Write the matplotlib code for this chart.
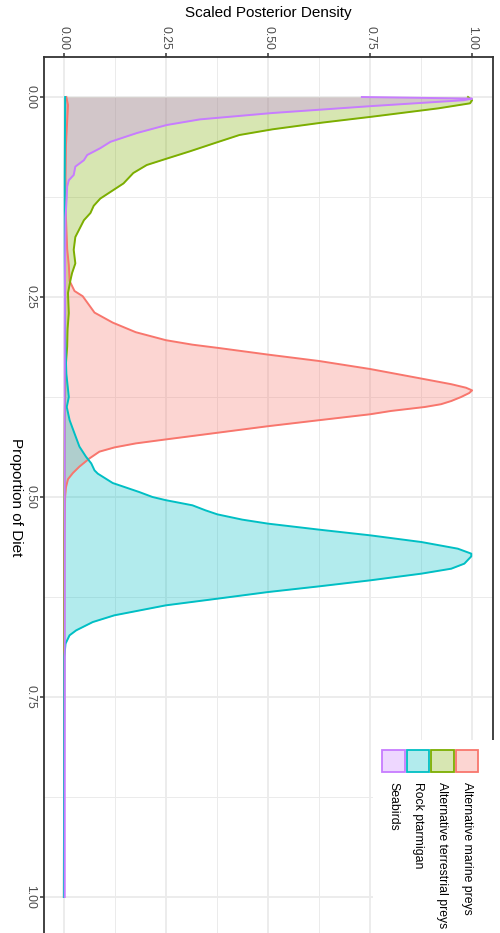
import matplotlib
matplotlib.use('Agg')
import matplotlib.pyplot as plt
from matplotlib.patches import Rectangle
from matplotlib.colors import to_rgba

plt.rcParams['font.family'] = ['Liberation Sans', 'DejaVu Sans']

# Scaled posterior densities (proportion of diet -> density)
marine_prop = [0, 0.01, 0.03, 0.06, 0.10, 0.15, 0.19, 0.21, 0.230, 0.2425, 0.249, 0.261,
               0.2695, 0.282, 0.294, 0.304, 0.3096, 0.3138, 0.322, 0.330, 0.340, 0.352,
               0.359, 0.3634, 0.3667, 0.370, 0.375, 0.380, 0.384, 0.3875, 0.3924, 0.3966,
               0.404, 0.4115, 0.4197, 0.428, 0.433, 0.438, 0.4433, 0.4516, 0.462, 0.470,
               0.4777, 0.488, 0.50, 0.55, 1.0]
marine_dens = [0.006, 0.010, 0.008, 0.005, 0.004, 0.005, 0.008, 0.012, 0.014, 0.026, 0.046, 0.063,
               0.075, 0.1195, 0.176, 0.250, 0.315, 0.380, 0.5, 0.625, 0.750, 0.876,
               0.949, 0.985, 1.0, 0.993, 0.973, 0.949, 0.924, 0.884, 0.802, 0.750,
               0.625, 0.5, 0.376, 0.250, 0.176, 0.124, 0.087, 0.063, 0.038, 0.022,
               0.010, 0.005, 0.003, 0.001, 0.0]

terr_prop = [0, 0.004, 0.0079, 0.0142, 0.0246, 0.032, 0.0404, 0.0475, 0.057, 0.068, 0.077,
             0.085, 0.095, 0.108, 0.116, 0.127, 0.136, 0.145, 0.154, 0.162, 0.175, 0.191,
             0.208, 0.220, 0.229, 0.245, 0.27, 0.29, 0.312, 0.34, 0.40, 0.50, 1.0]
terr_dens = [0.99, 1.0, 0.995, 0.917, 0.755, 0.633, 0.511, 0.430, 0.373, 0.308, 0.252,
             0.203, 0.170, 0.146, 0.122, 0.089, 0.073, 0.065, 0.049, 0.041, 0.028, 0.024,
             0.028, 0.020, 0.016, 0.010, 0.012, 0.009, 0.008, 0.004, 0.002, 0.001, 0.0]

rock_prop = [0, 0.10, 0.20, 0.30, 0.346, 0.375, 0.3875, 0.404, 0.4206, 0.437, 0.4496, 0.458,
             0.4667, 0.4708, 0.4825, 0.4938, 0.5, 0.504, 0.5104, 0.5167, 0.5217, 0.5283,
             0.5333, 0.5408, 0.5479, 0.5563, 0.5646, 0.5708, 0.5742, 0.5833, 0.5896, 0.5958,
             0.6042, 0.6117, 0.6188, 0.6271, 0.6354, 0.6479, 0.6563, 0.6667, 0.6729, 0.6833,
             0.70, 0.80, 1.0]
rock_dens = [0.003, 0.002, 0.002, 0.003, 0.006, 0.012, 0.007, 0.014, 0.026, 0.038, 0.054, 0.067,
             0.075, 0.083, 0.1195, 0.1846, 0.217, 0.250, 0.315, 0.347, 0.376, 0.437,
             0.5, 0.625, 0.750, 0.876, 0.965, 0.998, 0.998, 0.981, 0.949, 0.876,
             0.750, 0.625, 0.5, 0.376, 0.250, 0.1236, 0.0707, 0.030, 0.0138, 0.004,
             0.001, 0.0005, 0.0]

sea_prop = [0, 0.002, 0.004, 0.0113, 0.020, 0.028, 0.035, 0.045, 0.056, 0.064, 0.0725,
            0.079, 0.087, 0.0975, 0.104, 0.112, 0.125, 0.15, 0.20, 0.30, 0.50, 0.75, 1.0]
sea_dens = [0.73, 1.0, 0.98, 0.755, 0.511, 0.333, 0.252, 0.179, 0.114, 0.089, 0.057,
            0.049, 0.028, 0.024, 0.012, 0.008, 0.007, 0.004, 0.003, 0.002, 0.002, 0.002, 0.002]

names = ['Alternative marine preys', 'Alternative terrestrial preys', 'Rock ptarmigan', 'Seabirds']
colors = ['#F8766D', '#7CAE00', '#00BFC4', '#C77CFF']
props = [marine_prop, terr_prop, rock_prop, sea_prop]
dens = [marine_dens, terr_dens, rock_dens, sea_dens]

ticks = [0, 0.25, 0.5, 0.75, 1.0]
tick_labels = ['0.00', '0.25', '0.50', '0.75', '1.00']
minor_ticks = [0.125, 0.375, 0.625, 0.875]

W, H = 500, 933
fig = plt.figure(figsize=(W / 100, H / 100), dpi=100)
ax = fig.add_axes([43.5 / W, 1 - 937 / H, 449 / W, 880 / H])

for p, d, c in zip(props, dens, colors):
    ax.fill_betweenx(p, 0, d, color=c, alpha=0.3, linewidth=0)
    ax.plot(d, p, color=c, lw=1.4)

ax.set_xlim(-0.05, 1.05)
ax.set_ylim(1.05, -0.05)
ax.xaxis.tick_top()
ax.set_xticks(ticks)
ax.set_xticklabels(tick_labels, rotation=-90)
ax.set_yticks(ticks)
ax.set_yticklabels(tick_labels, rotation=-90, va='center')
ax.set_xticks(minor_ticks, minor=True)
ax.set_yticks(minor_ticks, minor=True)
ax.tick_params(which='major', length=2.75, width=1.1, color='#333333',
               labelsize=8.8, labelcolor='#4D4D4D', pad=2.2)
ax.tick_params(which='minor', length=0)
ax.grid(which='major', color='#EBEBEB', lw=1.3)
ax.grid(which='minor', color='#EBEBEB', lw=0.7)
ax.set_axisbelow(True)
for s in ax.spines.values():
    s.set_color('#333333')
    s.set_linewidth(1.3)

ax.xaxis.set_label_position('top')
ax.set_xlabel('Scaled Posterior Density', fontsize=11)
ax.xaxis.label.set_va('center')
ax.xaxis.set_label_coords(0.5, (937 - 13) / 880)
ax.set_ylabel('Proportion of Diet', fontsize=11, rotation=-90, va='center', ha='center')
ax.yaxis.set_label_coords((15.5 - 43.5) / 449, 0.5)

# legend, drawn by hand so it can be turned like the rest
fig.add_artist(Rectangle((373 / W, 0), (W - 373) / W, (H - 740) / H,
                         transform=fig.transFigure, facecolor='white',
                         edgecolor='none', zorder=3))
for i, (name, c) in enumerate(zip(names[::-1], colors[::-1])):
    xc = 393.5 + i * 24.5
    fig.add_artist(Rectangle(((xc - 11.3) / W, 1 - 771.5 / H), 22.6 / W, 22 / H,
                             transform=fig.transFigure, facecolor=to_rgba(c, 0.3),
                             edgecolor=c, lw=1.3, zorder=4))
    fig.text(xc / W, 1 - 782 / H, name, rotation=-90, ha='center', va='top',
             fontsize=8.8, zorder=5)

fig.savefig('out.png', dpi=100)
